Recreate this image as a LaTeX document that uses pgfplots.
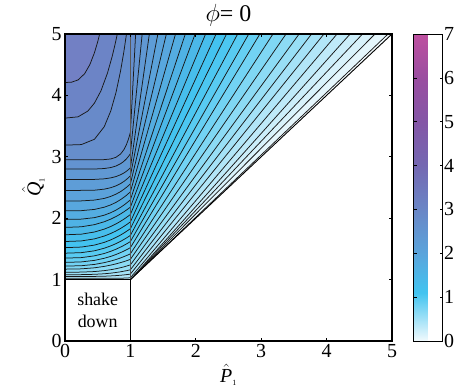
\documentclass[border=0pt]{standalone}
\usepackage{fontspec}
\setmainfont{Liberation Serif}
\usepackage{pgfplots}
\pgfplotsset{compat=1.18}
\pgfplotsset{colormap={cb}{rgb255(0pt)=(242,250,253) rgb255(11pt)=(66,196,240) rgb255(20pt)=(90,164,220) rgb255(30pt)=(106,134,198) rgb255(40pt)=(116,104,178) rgb255(50pt)=(132,86,166) rgb255(60pt)=(154,78,160) rgb255(70pt)=(190,80,160)}}
\definecolor{b0}{RGB}{242,250,253}
\definecolor{b1}{RGB}{229,246,252}
\definecolor{b2}{RGB}{216,242,251}
\definecolor{b3}{RGB}{204,238,250}
\definecolor{b4}{RGB}{191,234,249}
\definecolor{b5}{RGB}{178,230,248}
\definecolor{b6}{RGB}{165,226,247}
\definecolor{b7}{RGB}{152,223,246}
\definecolor{b8}{RGB}{140,219,245}
\definecolor{b9}{RGB}{127,215,244}
\definecolor{b10}{RGB}{114,211,244}
\definecolor{b11}{RGB}{101,207,243}
\definecolor{b12}{RGB}{88,203,242}
\definecolor{b13}{RGB}{76,199,241}
\definecolor{b14}{RGB}{67,195,240}
\definecolor{b15}{RGB}{71,190,236}
\definecolor{b16}{RGB}{75,184,232}
\definecolor{b17}{RGB}{79,178,229}
\definecolor{b18}{RGB}{84,173,225}
\definecolor{b19}{RGB}{88,167,222}
\definecolor{b20}{RGB}{91,162,218}
\definecolor{b21}{RGB}{94,157,215}
\definecolor{b22}{RGB}{96,152,211}
\definecolor{b23}{RGB}{99,147,208}
\definecolor{b24}{RGB}{102,142,204}
\definecolor{b25}{RGB}{104,138,201}
\definecolor{b26}{RGB}{108,132,198}
\definecolor{b27}{RGB}{114,128,196}
\pgfplotsset{cl/.style={fill=#1, draw=black!90, line width=0.75bp}}
\begin{document}
\begin{tikzpicture}
\useasboundingbox (-65bp,-45bp) rectangle (397bp,341bp);
\begin{axis}[
  scale only axis, width=327bp, height=307bp,
  xmin=0, xmax=5, ymin=0, ymax=5,
  xtick={0,1,2,3,4,5}, ytick={0,1,2,3,4,5},
  /pgf/number format/assume math mode=true,
  tick align=inside, major tick length=3bp,
  axis on top,
  axis line style={line width=1.1bp},
  every tick/.style={black, line width=0.6bp},
  tick label style={font=\fontsize{20}{20}\selectfont},
  label style={font=\fontsize{20}{20}\selectfont},
  title style={font=\fontsize{24}{24}\selectfont, yshift=-2bp},
  xlabel style={yshift=1bp},
  title={$\phi$= 0},
  xlabel={$\hat{\mbox{\textit{P}}}_{\mbox{\fontsize{8}{8}\selectfont 1}}$},
  ylabel={$\hat{\mbox{\textit{Q}}}_{\mbox{\fontsize{8}{8}\selectfont 1}}$},
  colormap name=cb, point meta min=0, point meta max=7,
  colorbar,
  colorbar style={at={(parent axis.north east)}, anchor=north west, xshift=13bp, width=29bp,
    ytick={0,1,2,3,4,5,6,7}, /pgf/number format/assume math mode=true,
    tick align=inside, major tick length=3bp,
    yticklabel style={font=\fontsize{20}{20}\selectfont, xshift=-2bp},
    axis line style={line width=0.9bp}},
]
\addplot[fill=b0, draw=none] coordinates {(0,1) (1,1) (5,5) (0,5)};
\addplot[cl=b1] coordinates {(0,1) (1,1) (4.94,5) (0,5)};
\addplot[cl=b2] coordinates {(0,1) (1,1) (4.74,5) (0,5)};
\addplot[cl=b3] coordinates {(0,1) (1,1) (4.55,5) (0,5)};
\addplot[cl=b4] coordinates {(0,1) (1,1) (4.36,5) (0,5)};
\addplot[cl=b5] coordinates {(0,1.02) (0.85,1.022) (0.94,1.026) (1,1.03) (4.16,5) (0,5)};
\addplot[cl=b6] coordinates {(0,1.05) (0.45,1.052) (0.6,1.055) (0.7,1.060) (0.78,1.065) (0.85,1.071) (0.9,1.076) (0.94,1.081) (0.97,1.085) (1,1.09) (3.96,5) (0,5)};
\addplot[cl=b7] coordinates {(0,1.08) (0.25,1.081) (0.45,1.086) (0.6,1.095) (0.7,1.105) (0.78,1.116) (0.85,1.127) (0.9,1.137) (0.94,1.145) (0.97,1.152) (1,1.16) (3.77,5) (0,5)};
\addplot[cl=b8] coordinates {(0,1.12) (0.25,1.122) (0.45,1.131) (0.6,1.146) (0.7,1.161) (0.78,1.177) (0.85,1.194) (0.9,1.207) (0.94,1.220) (0.97,1.230) (1,1.24) (3.58,5) (0,5)};
\addplot[cl=b9] coordinates {(0,1.17) (0.25,1.175) (0.45,1.192) (0.6,1.215) (0.7,1.236) (0.78,1.256) (0.85,1.277) (0.9,1.293) (0.94,1.307) (0.97,1.318) (1,1.33) (3.38,5) (0,5)};
\addplot[cl=b10] coordinates {(0,1.22) (0.25,1.226) (0.45,1.247) (0.6,1.276) (0.7,1.302) (0.78,1.327) (0.85,1.353) (0.9,1.374) (0.94,1.391) (0.97,1.405) (1,1.42) (3.18,5) (0,5)};
\addplot[cl=b11] coordinates {(0,1.28) (0.25,1.288) (0.45,1.313) (0.6,1.347) (0.7,1.378) (0.78,1.409) (0.85,1.440) (0.9,1.464) (0.94,1.486) (0.97,1.502) (1,1.52) (2.98,5) (0,5)};
\addplot[cl=b12] coordinates {(0,1.35) (0.25,1.358) (0.45,1.387) (0.6,1.425) (0.7,1.461) (0.78,1.495) (0.85,1.530) (0.9,1.557) (0.94,1.581) (0.97,1.600) (1,1.62) (2.81,5) (0,5)};
\addplot[cl=b13] coordinates {(0,1.43) (0.25,1.439) (0.45,1.469) (0.6,1.511) (0.7,1.549) (0.78,1.586) (0.85,1.623) (0.9,1.653) (0.94,1.678) (0.97,1.699) (1,1.72) (2.64,5) (0,5)};
\addplot[cl=b14] coordinates {(0,1.52) (0.25,1.530) (0.45,1.562) (0.6,1.606) (0.7,1.647) (0.78,1.687) (0.85,1.726) (0.9,1.758) (0.94,1.786) (0.97,1.807) (1,1.83) (2.47,5) (0,5)};
\addplot[cl=b15] coordinates {(0,1.62) (0.25,1.630) (0.45,1.663) (0.6,1.709) (0.7,1.751) (0.78,1.792) (0.85,1.833) (0.9,1.866) (0.94,1.894) (0.97,1.917) (1,1.94) (2.31,5) (0,5)};
\addplot[cl=b16] coordinates {(0,1.73) (0.25,1.740) (0.45,1.775) (0.6,1.822) (0.7,1.865) (0.78,1.907) (0.85,1.950) (0.9,1.984) (0.94,2.013) (0.97,2.036) (1,2.06) (2.15,5) (0,5)};
\addplot[cl=b17] coordinates {(0,1.85) (0.25,1.860) (0.45,1.895) (0.6,1.942) (0.7,1.985) (0.78,2.027) (0.85,2.070) (0.9,2.104) (0.94,2.133) (0.97,2.156) (1,2.18) (1.99,5) (0,5)};
\addplot[cl=b18] coordinates {(0,1.98) (0.25,1.985) (0.45,2.009) (0.6,2.049) (0.7,2.090) (0.78,2.132) (0.85,2.177) (0.9,2.213) (0.94,2.246) (0.97,2.272) (1,2.30) (1.84,5) (0,5)};
\addplot[cl=b19] coordinates {(0,2.12) (0.25,2.123) (0.45,2.143) (0.6,2.179) (0.7,2.217) (0.78,2.258) (0.85,2.303) (0.9,2.340) (0.94,2.373) (0.97,2.401) (1,2.43) (1.69,5) (0,5)};
\addplot[cl=b20] coordinates {(0,2.28) (0.25,2.282) (0.45,2.295) (0.6,2.322) (0.7,2.355) (0.78,2.392) (0.85,2.433) (0.9,2.470) (0.94,2.503) (0.97,2.530) (1,2.56) (1.55,5) (0,5)};
\addplot[cl=b21] coordinates {(0,2.45) (0.45,2.456) (0.6,2.473) (0.7,2.497) (0.78,2.527) (0.85,2.564) (0.9,2.598) (0.94,2.631) (0.97,2.659) (1,2.69) (1.42,5) (0,5)};
\addplot[cl=b22] coordinates {(0,2.63) (0.45,2.632) (0.6,2.641) (0.7,2.657) (0.78,2.678) (0.85,2.708) (0.9,2.736) (0.94,2.765) (0.97,2.791) (1,2.82) (1.29,5) (0,5)};
\addplot[cl=b23] coordinates {(0,2.80) (0.45,2.801) (0.6,2.809) (0.7,2.825) (0.78,2.850) (0.85,2.887) (0.9,2.926) (0.94,2.967) (0.97,3.005) (1,3.05) (1.18,5) (0,5)};
\addplot[cl=b24] coordinates {(0,2.95) (0.6,2.954) (0.7,2.965) (0.78,2.992) (0.85,3.046) (0.9,3.115) (0.94,3.200) (0.97,3.287) (0.99,3.359) (1,3.40) (1.08,5) (0,5)};
\addplot[cl=b25] coordinates {(0,3.19) (0.25,3.199) (0.45,3.285) (0.6,3.490) (0.7,3.747) (0.78,4.048) (0.85,4.400) (0.9,4.711) (0.94,5) (0,5)};
\addplot[cl=b26] coordinates {(0,3.63) (0.2,3.651) (0.35,3.745) (0.45,3.874) (0.55,4.075) (0.65,4.365) (0.72,4.629) (0.76,4.805) (0.8,5) (0,5)};
\addplot[cl=b27] coordinates {(0,4.21) (0.1,4.215) (0.2,4.252) (0.3,4.353) (0.38,4.501) (0.45,4.694) (0.5,4.873) (0.53,5) (0,5)};
\addplot[black!65, line width=0.7bp] coordinates {(1,1) (1,5)};
\addplot[black, line width=0.8bp] coordinates {(1,0) (1,1) (0,1)};
\addplot[black, line width=0.9bp] coordinates {(1,1) (5,5)};
\node[align=center, font=\fontsize{18}{22}\selectfont] at (axis cs:0.5,0.5) {shake\\down};
\end{axis}
\end{tikzpicture}
\end{document}
